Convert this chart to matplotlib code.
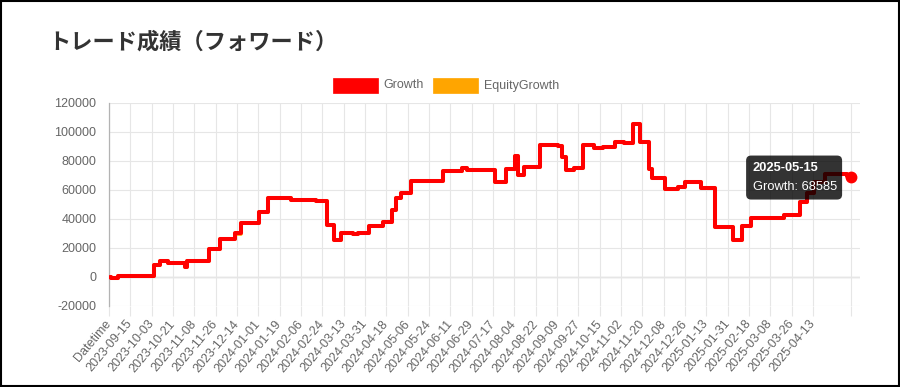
import pandas as pd
import matplotlib
matplotlib.use("Agg")
import matplotlib.pyplot as plt
from matplotlib.patches import Rectangle, FancyBboxPatch
from matplotlib.transforms import IdentityTransform

plt.rcParams['font.family'] = ['Liberation Sans', 'DejaVu Sans']

title = "トレード成績（フォワード）"
series_names = ["Growth", "EquityGrowth"]
series_colors = ["#ff0000", "#ffa500"]
start_date = "2023-08-29"   # first data row (category index 1, index 0 is the "Datetime" header)

tick_labels = [
    "Datetime", "2023-09-15", "2023-10-03", "2023-10-21", "2023-11-08", "2023-11-26",
    "2023-12-14", "2024-01-01", "2024-01-19", "2024-02-06", "2024-02-24", "2024-03-13",
    "2024-03-31", "2024-04-18", "2024-05-06", "2024-05-24", "2024-06-11", "2024-06-29",
    "2024-07-17", "2024-08-04", "2024-08-22", "2024-09-09", "2024-09-27", "2024-10-15",
    "2024-11-02", "2024-11-20", "2024-12-08", "2024-12-26", "2025-01-13", "2025-01-31",
    "2025-02-18", "2025-03-08", "2025-03-26", "2025-04-13",
]

# dates where the growth value changes, and the new value
growth_dates = [
    "2023-08-29", "2023-08-30", "2023-09-05", "2023-10-05", "2023-10-10", "2023-10-17",
    "2023-10-31", "2023-11-02", "2023-11-20", "2023-11-30", "2023-12-12", "2023-12-17",
    "2024-01-02", "2024-01-09", "2024-01-29", "2024-02-19", "2024-02-28", "2024-03-05",
    "2024-03-11", "2024-03-21", "2024-03-25", "2024-04-03", "2024-04-15", "2024-04-23",
    "2024-04-26", "2024-04-30", "2024-05-09", "2024-06-05", "2024-06-21", "2024-06-25",
    "2024-07-19", "2024-07-28", "2024-08-05", "2024-08-07", "2024-08-12", "2024-08-26",
    "2024-09-10", "2024-09-13", "2024-09-17", "2024-09-23", "2024-10-01", "2024-10-10",
    "2024-10-18", "2024-10-28", "2024-11-05", "2024-11-12", "2024-11-18", "2024-11-26",
    "2024-11-28", "2024-12-09", "2024-12-20", "2024-12-26", "2025-01-09", "2025-01-20",
    "2025-02-05", "2025-02-12", "2025-02-20", "2025-03-20", "2025-04-02", "2025-04-08",
    "2025-04-14", "2025-04-23", "2025-05-12", "2025-05-15",
]
growth_values = [
    0, -1000, 800, 8000, 10600, 9500,
    7000, 10800, 18900, 26200, 30100, 36800,
    44800, 54500, 52900, 52000, 35700, 25300,
    29900, 29200, 29900, 35200, 37500, 46000,
    54300, 57500, 66200, 72600, 75000, 73600,
    65500, 74000, 83500, 70100, 75400, 90800,
    90000, 82800, 73600, 75200, 90800, 89000,
    89700, 92700, 92000, 105300, 93100, 74100,
    67900, 60300, 62100, 65500, 61000, 34500,
    25000, 35000, 40500, 42800, 51300, 57900,
    65000, 71000, 69500, 68585,
]
# equity curve sits right under the growth curve
equity_values = [
    0, -1000, 800, 8000, 10600, 9500,
    7000, 10800, 18900, 26200, 29500, 36800,
    44800, 54500, 52900, 52000, 35700, 25300,
    29900, 29200, 29900, 35200, 37500, 46000,
    54300, 57500, 66200, 72600, 75000, 73600,
    65500, 74000, 83500, 70100, 75400, 90800,
    90000, 82800, 73600, 75200, 90800, 89000,
    89700, 92700, 92000, 105300, 93100, 74100,
    67900, 60300, 62100, 65500, 61000, 34500,
    25000, 35000, 40500, 42800, 51300, 57900,
    65000, 71000, 69500, 68585,
]
y_ticks = [-20000, 0, 20000, 40000, 60000, 80000, 100000, 120000]


def cat_index(label):
    # category position: "Datetime" header is 0, then one slot per day
    if label == "Datetime":
        return 0
    return (pd.Timestamp(label) - pd.Timestamp(start_date)).days + 1


gx = [cat_index(d) for d in growth_dates]
last_x = gx[-1]
tick_pos = [cat_index(t) for t in tick_labels] + [last_x]

fig = plt.figure(figsize=(9, 3.87), dpi=100)
ax = fig.add_axes([109 / 900, 1 - 305.7 / 387, 751 / 900, 203 / 387])

grid_c = "#e6e6e6"
ax.step(gx, equity_values, where='post', color=series_colors[1], lw=2.6, zorder=2)
ax.step(gx, growth_values, where='post', color=series_colors[0], lw=2.9,
        solid_joinstyle='round', solid_capstyle='round', zorder=3)
ax.plot([last_x], [growth_values[-1]], 'o', color=series_colors[0], ms=7.5, zorder=4)

ax.set_xlim(0, (860 - 109) / 1.185)
ax.set_ylim(-20000, 120000)
ax.set_yticks(y_ticks)
ax.set_yticklabels([str(v) for v in y_ticks])
ax.set_xticks(tick_pos)
ax.set_xticklabels(tick_labels + [""], rotation=50, ha='right', va='center',
                   rotation_mode='anchor')
ax.grid(True, color=grid_c, lw=0.8)
ax.axhline(0, color="#b3b3b3", lw=0.9, zorder=1)
for s in ["top", "right", "bottom"]:
    ax.spines[s].set_visible(False)
ax.spines["left"].set_color("#b3b3b3")
ax.spines["left"].set_linewidth(0.9)
ax.tick_params(axis='x', length=7.5, width=0.8, color=grid_c, colors="#666666",
               labelsize=9, pad=4)
ax.tick_params(axis='y', length=0, colors="#666666", labelsize=9, pad=9)
for lbl in ax.get_xticklabels():
    lbl.set_color("#666666")

# title
fig.text(48 / 900, 1 - 42 / 387, title, family=['Noto Sans CJK JP', 'DejaVu Sans'],
         fontsize=16, fontweight='bold', color="#333333", va='center', ha='left')

# legend boxes
leg_boxes = [333, 433]
leg_texts = [383, 484]
for name, col, bx, tx in zip(series_names, series_colors, leg_boxes, leg_texts):
    fig.add_artist(Rectangle((bx / 900, 1 - 93 / 387), 45 / 900, 15 / 387,
                             transform=fig.transFigure, facecolor=col,
                             edgecolor=col, lw=0.5))
    fig.text(tx / 900, 1 - 85.5 / 387, name, fontsize=9, color="#666666",
             va='center', ha='left')

# hover tooltip at the last point
px, py = ax.transData.transform((last_x, growth_values[-1]))
box = FancyBboxPatch((px - 104.7, py - 22.3), 96, 44,
                     boxstyle="round,pad=0,rounding_size=5",
                     transform=IdentityTransform(), facecolor=(0, 0, 0, 0.8),
                     edgecolor='none', zorder=10)
fig.add_artist(box)
fig.text(px - 98, py + 9.5, growth_dates[-1], transform=IdentityTransform(),
         fontsize=9.3, fontweight='bold', color='white', va='center', ha='left', zorder=11)
fig.text(px - 98, py - 9.5, f"{series_names[0]}: {growth_values[-1]}",
         transform=IdentityTransform(), fontsize=9.3, color='white',
         va='center', ha='left', zorder=11)

# outer frame
fig.add_artist(Rectangle((0.001, 0.002), 0.998, 0.996, transform=fig.transFigure,
                         fill=False, edgecolor='black', lw=1.5))

fig.savefig("out.png", dpi=100)
